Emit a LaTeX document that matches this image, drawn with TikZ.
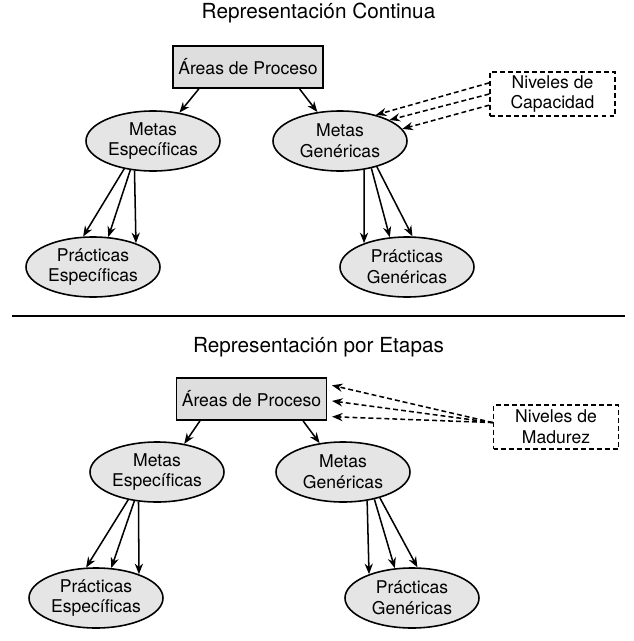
\documentclass[tikz,border=0pt]{standalone}
\usepackage{fontspec}
\setmainfont{TeX Gyre Heros}
\usetikzlibrary{arrows.meta,shapes.geometric}

\definecolor{relleno}{gray}{0.90}
\definecolor{rellenocaja}{gray}{0.87}

\tikzset{
    meta/.style={ellipse, draw, line width=1.35pt, fill=relleno, minimum width=4.02cm, minimum height=1.8cm, inner sep=0pt, align=center, font=\fontsize{15}{17.9}\selectfont},
    area/.style={rectangle, draw, line width=1.5pt, fill=rellenocaja, minimum width=4.5cm, minimum height=1.26cm, inner sep=0pt, font=\fontsize{15}{17.9}\selectfont},
    nivel/.style={rectangle, draw, line width=1.25pt, dash pattern=on 4.2pt off 2.6pt, minimum width=3.75cm, minimum height=1.32cm, inner sep=0pt, align=center, font=\fontsize{15}{17.9}\selectfont},
    titulo/.style={font=\fontsize{17.7}{20}\selectfont},
    flecha/.style={-{Stealth[length=9pt,width=7pt]}, line width=1.3pt},
    flechapunt/.style={flecha, dash pattern=on 4.2pt off 2.6pt}
}

\begin{document}
\begin{tikzpicture}[x=0.03cm, y=-0.03cm] %1px
            \useasboundingbox (0,0) rectangle (633,641);

            % continua
            \node[titulo] (t1) at (318.5,13) {Representación Continua};
            \node[area] (ap1) at (248,67) {Áreas de Proceso};
            \node[nivel] (cap) at (552.5,94) {Niveles de\\Capacidad};
            \node[meta] (me1) at (153,141) {Metas\\Específicas};
            \node[meta] (mg1) at (340,141) {Metas\\Genéricas};
            \node[meta] (pe1) at (93,267) {Prácticas\\Específicas};
            \node[meta] (pg1) at (407,267) {Prácticas\\Genéricas};

            \draw[flecha] (ap1.-156) -- (me1.47);
            \draw[flecha] (ap1.-23) -- (mg1.128);
            \draw[flechapunt] (cap.170) -- (mg1.36);
            \draw[flechapunt] (cap.west) -- (mg1.23);
            \draw[flechapunt] (cap.190) -- (mg1.11);
            \draw[flecha] (me1.-136) -- (pe1.108);
            \draw[flecha] (me1.-128) -- (pe1.63);
            \draw[flecha] (me1.-122) -- (pe1.29);
            \draw[flecha] (mg1.-50) -- (pg1.151);
            \draw[flecha] (mg1.-41) -- (pg1.120);
            \draw[flecha] (mg1.-35) -- (pg1.80);

            \draw[line width=1.4pt] (12,316) -- (625,316);

            % por etapas
            \node[titulo] (t2) at (318.5,347) {Representación por Etapas};
            \node[area] (ap2) at (251.5,399) {Áreas de Proceso};
            \node[nivel] (mad) at (556,427) {Niveles de\\Madurez};
            \node[meta] (me2) at (157,472) {Metas\\Específicas};
            \node[meta] (mg2) at (343,472) {Metas\\Genéricas};
            \node[meta] (pe2) at (96,598) {Prácticas\\Específicas};
            \node[meta] (pg2) at (412,598) {Prácticas\\Genéricas};

            \draw[flecha] (ap2.-157) -- (me2.46);
            \draw[flecha] (ap2.-23) -- (mg2.129);
            \draw[flechapunt, shorten >=4pt] (mad.176) -- (ap2.11);
            \draw[flechapunt, shorten >=4pt] (mad.176) -- (ap2.-1.5);
            \draw[flechapunt, shorten >=4pt] (mad.176) -- (ap2.-13.5);
            \draw[flecha] (me2.-136) -- (pe2.108);
            \draw[flecha] (me2.-128) -- (pe2.63);
            \draw[flecha] (me2.-122) -- (pe2.29);
            \draw[flecha] (mg2.-50) -- (pg2.151);
            \draw[flecha] (mg2.-41) -- (pg2.120);
            \draw[flecha] (mg2.-35) -- (pg2.80);
\end{tikzpicture}
\end{document}
